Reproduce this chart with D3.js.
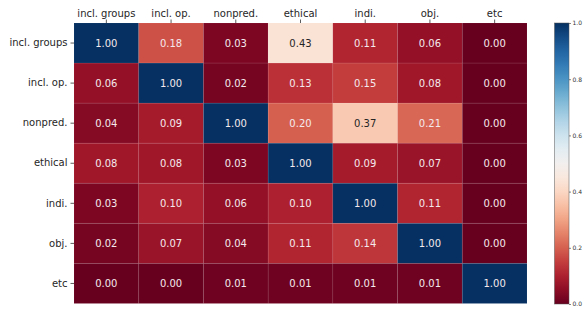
<!DOCTYPE html>
<html lang="en">
<head>
    <meta charset="UTF-8">
    <script src="https://d3js.org/d3.v7.min.js" charset="utf-8"></script>
    <title>Heatmap</title>
    <style>
        body { margin: 0; background: #fff; }
        svg text { font-family: "DejaVu Sans", sans-serif; }
    </style>
</head>
<body>
    <div id="chart"></div>
    <script>
        const labels = ["incl. groups", "incl. op.", "nonpred.", "ethical", "indi.", "obj.", "etc"];
        const rowInclGroups = [1.00, 0.18, 0.03, 0.43, 0.11, 0.06, 0.00];
        const rowInclOp     = [0.06, 1.00, 0.02, 0.13, 0.15, 0.08, 0.00];
        const rowNonpred    = [0.04, 0.09, 1.00, 0.20, 0.37, 0.21, 0.00];
        const rowEthical    = [0.08, 0.08, 0.03, 1.00, 0.09, 0.07, 0.00];
        const rowIndi       = [0.03, 0.10, 0.06, 0.10, 1.00, 0.11, 0.00];
        const rowObj        = [0.02, 0.07, 0.04, 0.11, 0.14, 1.00, 0.00];
        const rowEtc        = [0.00, 0.00, 0.01, 0.01, 0.01, 0.01, 1.00];
        const matrix = [rowInclGroups, rowInclOp, rowNonpred, rowEthical, rowIndi, rowObj, rowEtc];
        const cbTicks = [0, 0.2, 0.4, 0.6, 0.8, 1.0];

        const width = 585, height = 309;
        const mLeft = 74, mTop = 23, mRight = 527, mBottom = 303.5;

        const svg = d3.select("#chart").append("svg")
            .attr("width", width)
            .attr("height", height);

        const x = d3.scaleBand().domain(labels).range([mLeft, mRight]);
        const y = d3.scaleBand().domain(labels).range([mTop, mBottom]);
        const color = d3.scaleSequential(d3.interpolateRdBu).domain([0, 1]);

        const cells = [];
        matrix.forEach((row, i) => row.forEach((v, j) => cells.push({ r: labels[i], c: labels[j], v: v })));

        svg.append("g").selectAll("rect")
            .data(cells)
            .enter()
            .append("rect")
            .attr("x", d => x(d.c))
            .attr("y", d => y(d.r))
            .attr("width", x.bandwidth())
            .attr("height", y.bandwidth())
            .attr("fill", d => color(d.v))
            .attr("stroke", "rgba(255,255,255,0.06)")
            .attr("stroke-width", 1);

        svg.append("g").selectAll("text")
            .data(cells)
            .enter()
            .append("text")
            .attr("x", d => x(d.c) + x.bandwidth() / 2)
            .attr("y", d => y(d.r) + y.bandwidth() / 2)
            .attr("text-anchor", "middle")
            .attr("dy", "0.36em")
            .attr("font-size", "10px")
            .attr("fill", d => d3.lab(color(d.v)).l > 65 ? "#262626" : "#f4e9ec")
            .text(d => d.v.toFixed(2));

        // axes
        const xAxis = svg.append("g")
            .attr("transform", `translate(0,${mTop})`)
            .call(d3.axisTop(x).tickSize(3.5).tickPadding(3));
        const yAxis = svg.append("g")
            .attr("transform", `translate(${mLeft},0)`)
            .call(d3.axisLeft(y).tickSize(3.5).tickPadding(3));
        [xAxis, yAxis].forEach(a => {
            a.select(".domain").remove();
            a.selectAll("text").attr("font-size", "10px").attr("fill", "#262626")
                .style("font-family", "DejaVu Sans, sans-serif");
            a.selectAll("line").attr("stroke", "#333").attr("stroke-width", 0.8);
        });

        // colorbar
        const cbX = 554.5, cbW = 14.5, cbTop = 23, cbBottom = 304;
        const defs = svg.append("defs");
        const grad = defs.append("linearGradient")
            .attr("id", "cbgrad")
            .attr("x1", 0).attr("y1", 1).attr("x2", 0).attr("y2", 0);
        d3.range(0, 1.0001, 0.05).forEach(t => {
            grad.append("stop").attr("offset", t).attr("stop-color", color(t));
        });
        svg.append("rect")
            .attr("x", cbX).attr("y", cbTop)
            .attr("width", cbW).attr("height", cbBottom - cbTop)
            .attr("fill", "url(#cbgrad)")
            .attr("stroke", "#555").attr("stroke-width", 0.5);

        const cbScale = d3.scaleLinear().domain([0, 1]).range([cbBottom, cbTop]);
        const cbAxis = svg.append("g")
            .attr("transform", `translate(${cbX + cbW},0)`)
            .call(d3.axisRight(cbScale).tickValues(cbTicks).tickFormat(d3.format(".1f")).tickSize(2).tickPadding(1.5));
        cbAxis.select(".domain").remove();
        cbAxis.selectAll("text").attr("font-size", "6px").attr("fill", "#333")
            .style("font-family", "DejaVu Sans, sans-serif");
        cbAxis.selectAll("line").attr("stroke", "#333").attr("stroke-width", 0.6);
    </script>
</body>
</html>
